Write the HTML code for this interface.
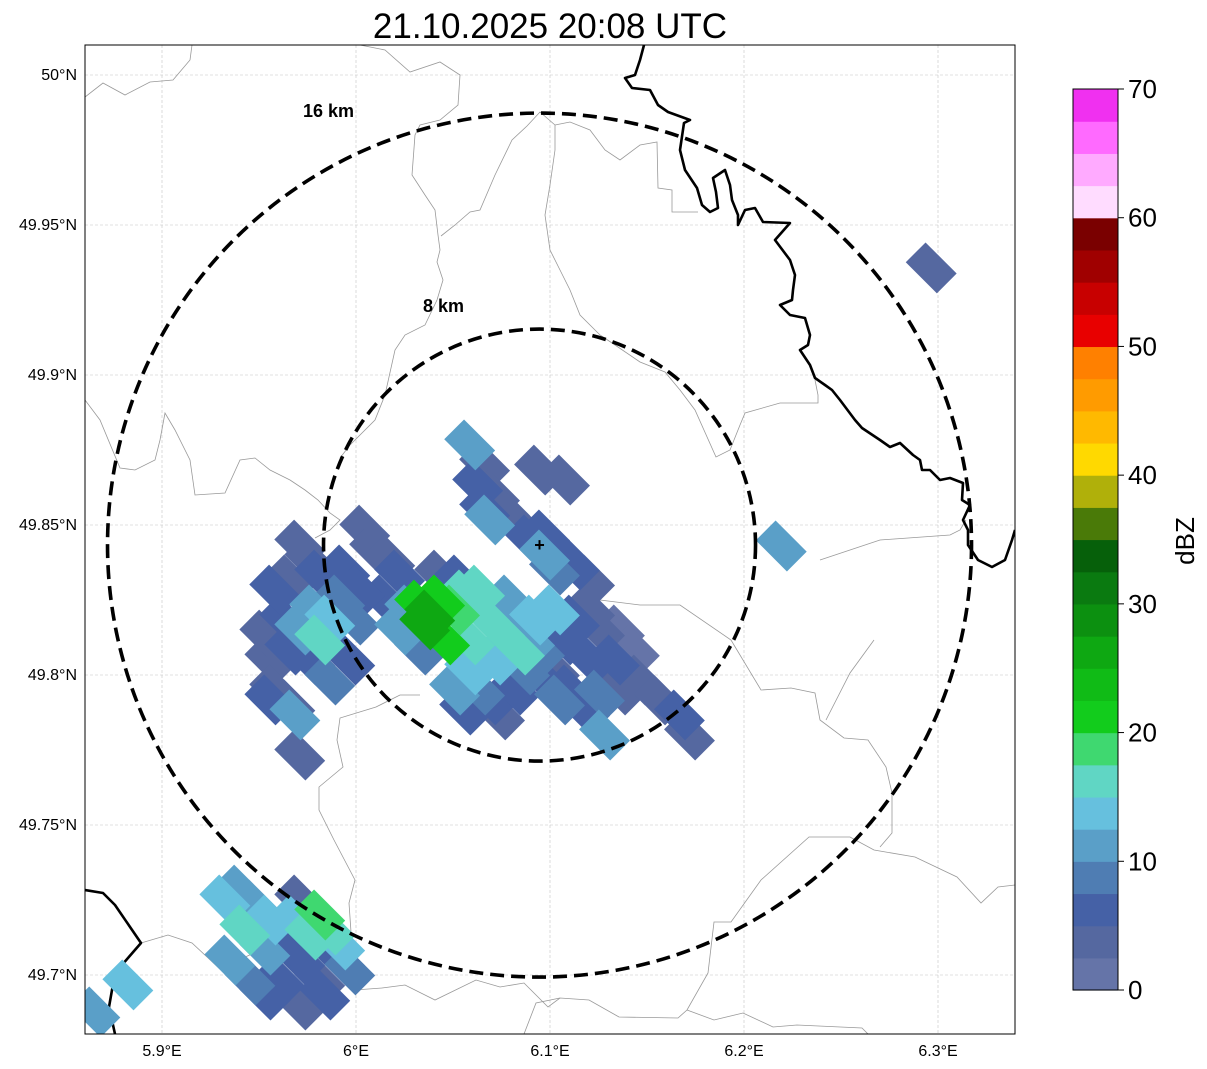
<!DOCTYPE html>
<html><head><meta charset="utf-8">
<style>
html,body{margin:0;padding:0;background:#fff;}
svg{display:block;font-family:"Liberation Sans","DejaVu Sans",sans-serif;}
</style></head>
<body>
<svg id="chart" width="1207" height="1069" viewBox="0 0 1207 1069" xmlns="http://www.w3.org/2000/svg">
<text x="550" y="38" font-size="35" text-anchor="middle">21.10.2025 20:08 UTC</text>
<defs><clipPath id="plotclip"><rect x="85" y="45" width="930" height="989"/></clipPath></defs>
<g id="grid"></g>
<g id="borders" clip-path="url(#plotclip)" fill="none"></g>
<g id="cells" clip-path="url(#plotclip)"></g>
<g id="rings" clip-path="url(#plotclip)"></g>
<rect x="85" y="45" width="930" height="989" fill="none" stroke="#000" stroke-width="1"/>
<g id="ticks"></g>
<g id="cbar"></g>
<text transform="translate(1194,541) rotate(-90)" font-size="26" text-anchor="middle">dBZ</text>
</svg>
<script>
const lonTicks=[5.9,6.0,6.1,6.2,6.3];
const lonLabels=["5.9°E","6°E","6.1°E","6.2°E","6.3°E"];
const latTicks=[50.0,49.95,49.9,49.85,49.8,49.75,49.7];
const latLabels=["50°N","49.95°N","49.9°N","49.85°N","49.8°N","49.75°N","49.7°N"];
const radarLon=6.0946, radarLat=49.8433;
const ringKm=[8,16];
const cbLevels=[0,10,20,30,40,50,60,70];
const cbColors=["#6574a8","#5568a0","#4561a6","#4f7db3","#5a9fc8","#66c0de","#60d6c4","#3fd870","#12cc1c","#10bb16","#0ea812","#0c9010","#0a7a10","#06600a","#4a7a08","#b0b00a","#ffd900","#ffb900","#ff9b00","#ff8000","#e80000","#c80000","#a00000","#7a0000","#ffdcff","#ffaaff","#ff6aff","#f030f0"];
const cellLon=[6.0586,6.0663,6.0627,6.0714,6.0766,6.0663,6.0689,6.0843,6.0895,6.0972,6.1049,6.1126,6.1204,6.0972,6.1023,6.0946,6.1075,
6.0045,6.0096,6.0174,6.0225,6.0148,6.0277,6.0225,6.0328,6.0534,6.0431,6.0328,6.0380,6.0354,6.0431,6.0457,6.0508,6.0560,6.0637,6.0586,6.0663,6.0740,6.0792,6.0714,6.0843,6.0895,6.0920,6.1023,6.0586,6.0508,6.0637,6.0560,6.0740,6.0689,6.0817,6.0946,6.1023,6.1075,6.1126,6.1204,6.1255,6.1358,6.1435,6.1332,6.1204,6.1101,6.1255,6.1178,6.1358,6.1461,6.1564,6.1667,6.1719,6.1281,6.1049,6.0972,6.0869,6.0792,
5.9710,5.9762,5.9659,5.9581,5.9813,5.9942,5.9916,5.9865,5.9787,5.9710,5.9633,5.9530,5.9556,5.9659,5.9762,5.9865,5.9968,5.9581,5.9659,5.9685,5.9556,6.0019,5.9993,5.9813,
5.9401,5.9478,5.9556,5.9427,5.9530,5.9633,5.9710,5.9685,5.9762,5.9813,5.9865,5.9710,5.9813,5.9916,5.9968,5.9607,5.9453,5.9710,5.9530,5.9350,5.9324,5.9916,5.9839,
5.9710,6.2965,6.2192,5.8654,5.8824];
const cellLat=[49.8767,49.8700,49.8633,49.8600,49.8550,49.8550,49.8517,49.8500,49.8450,49.8467,49.8400,49.8367,49.8317,49.8400,49.8350,49.8683,49.8650,
49.8483,49.8417,49.8383,49.8333,49.8250,49.8217,49.8150,49.8083,49.8317,49.8333,49.8233,49.8200,49.8167,49.8250,49.8117,49.8217,49.8267,49.8283,49.8117,49.8200,49.8150,49.8217,49.8050,49.8083,49.8117,49.8183,49.8217,49.8017,49.7950,49.7950,49.7883,49.7867,49.7917,49.7950,49.8083,49.8017,49.8117,49.8183,49.8217,49.8150,49.8150,49.8083,49.8050,49.8050,49.7950,49.7933,49.7883,49.7950,49.7983,49.7917,49.7867,49.7800,49.7800,49.7917,49.7983,49.8017,49.8250,
49.8433,49.8383,49.8317,49.8283,49.8333,49.8350,49.8250,49.8183,49.8217,49.8150,49.8183,49.8133,49.8050,49.8083,49.8050,49.7983,49.8050,49.7950,49.7900,49.7867,49.7917,49.8283,49.8183,49.8117,
49.7283,49.7233,49.7183,49.7150,49.7083,49.7117,49.7250,49.7183,49.7133,49.7200,49.7150,49.7050,49.6983,49.7050,49.7017,49.6983,49.6983,49.6900,49.6933,49.7050,49.7250,49.7100,49.6933,
49.7733,49.9357,49.8430,49.6877,49.6967];
const cellDbz=[11,4,5,4,4,7,11,3,5,5,4,5,4,10,8,3,3,
3,4,4,6,5,11,10,9,5,4,21,25,27,20,20,18,17,17,16,17,15,10,14,17,12,14,13,13,10,8,6,4,5,7,8,4,6,5,4,3,2,2,5,5,6,8,5,3,3,4,5,4,11,8,5,8,10,
3,4,4,7,6,5,9,13,12,10,6,4,3,6,5,9,5,4,4,10,5,6,8,15,
12,5,13,16,10,6,4,14,15,18,16,5,4,6,9,5,9,4,6,12,14,13,5,
4,4,11,12,13];

const NS="http://www.w3.org/2000/svg";
function xS(lon){return 162+(lon-5.9)*1940;}
function yS(lat){return 75+(50-lat)*3000;}
function cS(v){return 990-v*(901/70);}
const pxPerKm=27;
function mk(tag,attrs,parent){const e=document.createElementNS(NS,tag);for(const k in attrs)e.setAttribute(k,attrs[k]);parent.appendChild(e);return e;}

const grid=document.getElementById('grid');
lonTicks.forEach((t,i)=>{
  const l=mk('line',{x1:xS(t),x2:xS(t),y1:45,y2:1034,stroke:'#c4c4c4','stroke-width':0.6,'stroke-dasharray':'3,2'},grid);
  
  
});
latTicks.forEach((t,i)=>{
  const l=mk('line',{x1:85,x2:1015,y1:yS(t),y2:yS(t),stroke:'#c4c4c4','stroke-width':0.6,'stroke-dasharray':'3,2'},grid);
  
  
});

const borders=document.getElementById('borders');
const grayLines=[
"85,97 103,83 125,95 150,82 173,80 190,60 192,45",
"360,45 385,50 410,72 440,62 460,75 458,105 440,120 420,125 415,135 412,175 425,195 435,210 438,235 440,250 437,262 443,280 437,300 425,325 405,335 395,350 385,395 375,420 350,445 340,458",
"441,236 455,225 470,212 480,210 495,175 512,140 527,126 540,112 555,125 555,150 550,185 545,215 550,250 560,270 570,290 580,315 600,335 615,345 640,362 665,372 680,390 695,410 716,457 730,450 740,425 745,413 780,403 818,403 818,395 815,380",
"555,125 570,122 590,130 605,150 620,160 640,145 657,142 658,188 672,190 672,212 698,212",
"85,400 100,420 120,468 135,470 155,460 160,440 165,413 175,430 190,460 195,495 225,493 240,460 255,458 270,470 290,480 305,490 318,500 330,513 340,520 330,530 315,538",
"420,695 400,695 376,707 340,718 337,740 343,767 319,787 319,810 334,840 355,880 349,903 355,990 382,988 405,985 435,1000 476,980 500,987 524,983 548,1007 560,998 589,1000 619,1017 678,1018 687,1010 708,973 714,922 731,922 761,880 809,837 850,837 874,850 915,857 957,877 981,903 998,887 1015,885",
"687,1010 714,1020 743,1013 773,1027 797,1025 862,1028 868,1034",
"524,1034 536,1003 560,998",
"600,600 640,605 680,605 731,640 761,690 791,688 815,693 820,720 844,738 868,740 886,767 892,793 892,833 880,847",
"874,640 850,673 826,720",
"820,560 880,540 950,535 960,530 966,520",
"141,943 168,935 192,943 221,970 239,960 260,950"
];
grayLines.forEach(p=>{
  const e=mk('polyline',{points:p,stroke:'#999','stroke-width':0.8},borders);
  
  
});
const blackLines=[
"644,45 640,60 635,75 625,78 632,88 650,90 658,105 668,112 690,120 684,123 680,150 685,170 697,188 702,205 710,212 718,208 716,192 713,178 725,170 730,185 732,200 738,215 738,225 745,210 755,208 763,222 790,223 775,240 790,260 795,275 793,290 792,300 780,305 790,315 805,318 810,335 808,345 800,350 810,365 815,378 825,385 832,390 840,400 855,420 862,428 880,440 890,447 900,443 913,455 920,460 922,470 930,470 940,480 950,478 963,483 962,500 970,505 963,520 968,530 968,545 978,560 992,567 1005,560 1012,540 1015,530",
"85,890 103,893 115,905 141,943 115,973 109,1007 115,1034"
];
blackLines.forEach(p=>{
  const e=mk('polyline',{points:p,stroke:'#000','stroke-width':2.6,'stroke-linejoin':'round'},borders);
  
  
});

const cells=document.getElementById('cells');
function colorFor(v){let i=Math.floor(v/2.5);if(i<0)i=0;if(i>=cbColors.length)i=cbColors.length-1;return cbColors[i];}
const order=cellDbz.map((v,i)=>i).sort((a,b)=>cellDbz[a]-cellDbz[b]);
order.forEach(i=>{
  const cx=xS(cellLon[i]),cy=yS(cellLat[i]);
  const r=mk('rect',{x:cx-22,y:cy-14,width:44,height:28,fill:colorFor(cellDbz[i]),transform:`rotate(45 ${cx} ${cy})`},cells);
  
  
});

const rings=document.getElementById('rings');
const rcx=xS(radarLon),rcy=yS(radarLat);
ringKm.forEach(k=>{
  const c=mk('circle',{cx:rcx,cy:rcy,r:k*pxPerKm,fill:'none',stroke:'#000','stroke-width':3.6,'stroke-dasharray':'14,7'},rings);
  
  
});
const rl1=mk('text',{x:303,y:117,'font-size':18,'font-weight':'bold'},rings);rl1.textContent='16 km';


const rl2=mk('text',{x:423,y:312,'font-size':18,'font-weight':'bold'},rings);rl2.textContent='8 km';


const mark=mk('text',{x:rcx,y:rcy+6,'font-size':18,'font-weight':'bold','text-anchor':'middle'},rings);mark.textContent='+';



const ticks=document.getElementById('ticks');
lonTicks.forEach((t,i)=>{
  const tx=mk('text',{x:xS(t),y:1056,'font-size':16,'text-anchor':'middle'},ticks);tx.textContent=lonLabels[i];
  
  
});
latTicks.forEach((t,i)=>{
  const tx=mk('text',{x:77,y:yS(t)+5,'font-size':16,'text-anchor':'end'},ticks);tx.textContent=latLabels[i];
  
  
});

const cbar=document.getElementById('cbar');
cbColors.forEach((c,i)=>{
  const y0=cS((i+1)*2.5),y1=cS(i*2.5);
  const r=mk('rect',{x:1073,y:y0,width:45,height:y1-y0+0.6,fill:c},cbar);
  
  
});
const fr=mk('rect',{x:1073,y:cS(70),width:45,height:cS(0)-cS(70),fill:'none',stroke:'#000','stroke-width':1},cbar);


cbLevels.forEach(v=>{
  const l=mk('line',{x1:1118,x2:1124,y1:cS(v),y2:cS(v),stroke:'#000'},cbar);
  
  
  const tx=mk('text',{x:1128,y:cS(v)+9,'font-size':26},cbar);tx.textContent=v;
  
  
});
</script>
</body></html>
